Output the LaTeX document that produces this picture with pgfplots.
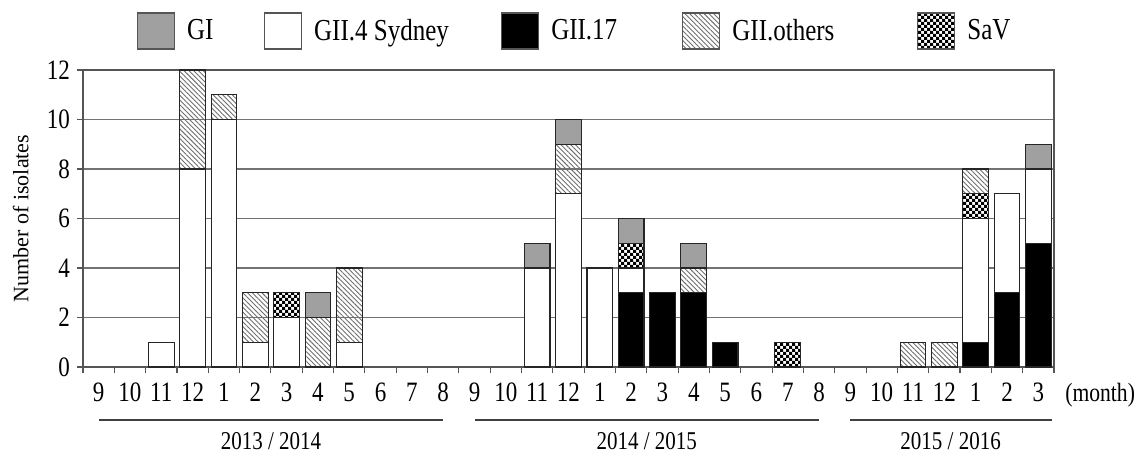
\documentclass[border=0pt]{standalone}
\usepackage{fontspec}
\setmainfont{Liberation Serif}
\usepackage{graphicx}
\usepackage{pgfplots}
\usepackage{pgfplotstable}
\pgfplotsset{compat=1.18}
\usetikzlibrary{patterns,patterns.meta}
\definecolor{giGray}{RGB}{160,160,160}
\definecolor{gridGray}{RGB}{115,115,115}
\definecolor{axGray}{RGB}{85,85,85}
\definecolor{hatchGray}{RGB}{110,110,110}
\newcommand\vs[1]{\scalebox{1}[1.22]{#1}}
\pgfdeclarepatternformonly{mychecker}{\pgfqpoint{-1pt}{-1pt}}{\pgfqpoint{4pt}{4pt}}{\pgfqpoint{3pt}{3pt}}{%
  \pgfpathrectangle{\pgfpointorigin}{\pgfqpoint{1.55pt}{1.55pt}}%
  \pgfpathrectangle{\pgfqpoint{1.5pt}{1.5pt}}{\pgfqpoint{1.55pt}{1.55pt}}%
  \pgfusepath{fill}}

\pgfplotstableread{
x g17 g4 sav oth gi
0 0 0 0 0 0
1 0 0 0 0 0
2 0 1 0 0 0
3 0 8 0 4 0
4 0 10 0 1 0
5 0 1 0 2 0
6 0 2 1 0 0
7 0 0 0 2 1
8 0 1 0 3 0
9 0 0 0 0 0
10 0 0 0 0 0
11 0 0 0 0 0
12 0 0 0 0 0
13 0 0 0 0 0
14 0 4 0 0 1
15 0 7 0 2 1
16 0 4 0 0 0
17 3 1 1 0 1
18 3 0 0 0 0
19 3 0 0 1 1
20 1 0 0 0 0
21 0 0 0 0 0
22 0 0 1 0 0
23 0 0 0 0 0
24 0 0 0 0 0
25 0 0 0 0 0
26 0 0 0 1 0
27 0 0 0 1 0
28 1 5 1 1 0
29 3 4 0 0 0
30 5 3 0 0 1
}\datatable

\begin{document}
\begin{tikzpicture}
\useasboundingbox (-41.5pt,-43.5pt) rectangle (527pt,183.5pt);
\begin{axis}[
  at={(0pt,0pt)}, anchor=south west,
  scale only axis, width=485.5pt, height=148.5pt,
  xmin=-0.5, xmax=30.5, ymin=0, ymax=12,
  ybar stacked, bar width=0.82,
  clip=false,
  xtick={-0.5,0.5,...,30.5},
  x tick label as interval,
  xticklabels={\vs{9},\vs{10},\vs{11},\vs{12},\vs{1},\vs{2},\vs{3},\vs{4},\vs{5},\vs{6},\vs{7},\vs{8},\vs{9},\vs{10},\vs{11},\vs{12},\vs{1},\vs{2},\vs{3},\vs{4},\vs{5},\vs{6},\vs{7},\vs{8},\vs{9},\vs{10},\vs{11},\vs{12},\vs{1},\vs{2},\vs{3}},
  ytick={0,2,...,12},
  yticklabels={\vs{0},\vs{2},\vs{4},\vs{6},\vs{8},\vs{10},\vs{12}},
  tick pos=left,
  ymajorgrids,
  grid style={draw=gridGray, line width=0.55pt},
  tick align=outside, major tick length=3pt,
  tick style={draw=axGray, line width=0.55pt},
  axis line style={draw=axGray, line width=0.65pt},
  /pgf/number format/assume math mode=true,
  ticklabel style={font=\fontsize{11.5}{13}\selectfont},
  xticklabel style={anchor=base, yshift=-14.5pt},
  ylabel={Number of isolates},
  ylabel style={at={(axis description cs:-0.064,0.5)}, anchor=center, font=\fontsize{11}{13}\selectfont},
  every axis plot/.append style={draw=black!85, line width=0.55pt},
  legend columns=5,
  legend image code/.code={\draw[#1, line width=0.55pt, draw=axGray] (0pt,-9pt) rectangle (18.5pt,9pt); \path (24.5pt,0pt);},
  legend style={at={(axis description cs:0,1)}, anchor=west, xshift=27pt, yshift=19.5pt,
     draw=none, fill=none, inner sep=0pt, outer sep=0pt,
     font=\fontsize{12.5}{14}\selectfont,
     nodes={inner sep=0pt, anchor=west},
     /tikz/every even column/.append style={column sep=0pt}},
]
\addlegendimage{fill=giGray}
\addlegendentry{\makebox[38.5pt][l]{\vs{GI}}}
\addlegendimage{fill=white}
\addlegendentry{\makebox[93.5pt][l]{\vs{GII.4 Sydney}}}
\addlegendimage{fill=black}
\addlegendentry{\makebox[65.5pt][l]{\vs{GII.17}}}
\addlegendimage{pattern={Lines[angle=-45,distance=1.7pt,line width=0.45pt]}, pattern color=hatchGray}
\addlegendentry{\makebox[92.5pt][l]{\vs{GII.others}}}
\addlegendimage{pattern=mychecker, pattern color=black}
\addlegendentry{\vs{SaV}}

\addplot[fill=black] table[x=x,y=g17]{\datatable};
\addplot[fill=white] table[x=x,y=g4]{\datatable};
\addplot[pattern=mychecker, pattern color=black] table[x=x,y=sav]{\datatable};
\addplot[pattern={Lines[angle=-45,distance=1.7pt,line width=0.45pt]}, pattern color=hatchGray] table[x=x,y=oth]{\datatable};
\addplot[fill=giGray] table[x=x,y=gi]{\datatable};

\node[anchor=base west, inner sep=0pt, font=\fontsize{10.8}{13}\selectfont] at ([xshift=5.5pt,yshift=-17.5pt]rel axis cs:1,0) {\vs{(month)}};
\draw[line width=1pt, draw=black!75] ([yshift=-26.5pt]axis cs:0,0) -- ([yshift=-26.5pt]axis cs:11,0);
\draw[line width=1pt, draw=black!75] ([yshift=-26.5pt]axis cs:12,0) -- ([yshift=-26.5pt]axis cs:23,0);
\draw[line width=1pt, draw=black!75] ([yshift=-26.5pt]axis cs:24,0) -- ([yshift=-26.5pt]axis cs:30.45,0);
\node[font=\fontsize{10.5}{13}\selectfont] at ([yshift=-37pt]axis cs:5.5,0) {\vs{2013 / 2014}};
\node[font=\fontsize{10.5}{13}\selectfont] at ([yshift=-37pt]axis cs:17.5,0) {\vs{2014 / 2015}};
\node[font=\fontsize{10.5}{13}\selectfont] at ([yshift=-37pt]axis cs:27.2,0) {\vs{2015 / 2016}};
\end{axis}
\end{tikzpicture}
\end{document}
